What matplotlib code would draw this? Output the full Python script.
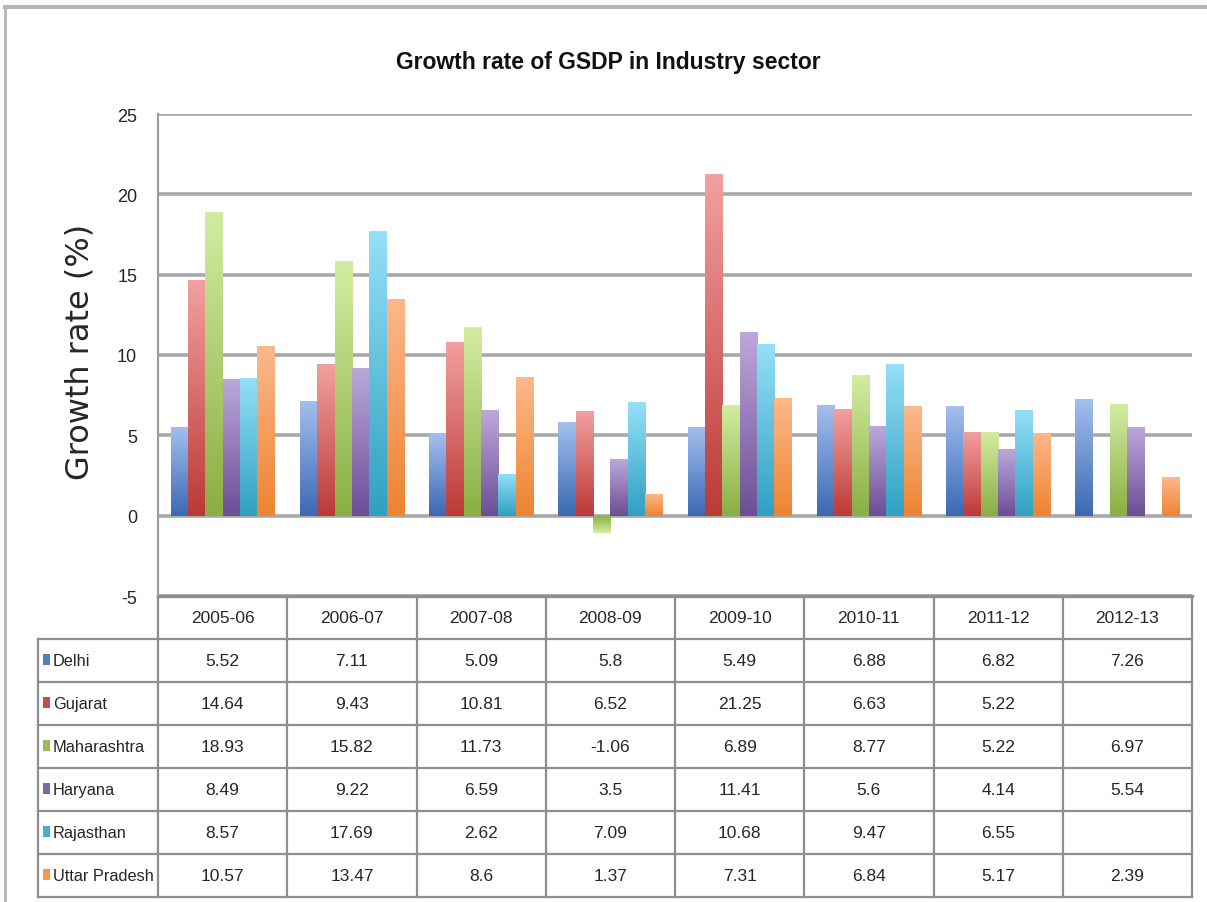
import numpy as np
import matplotlib
matplotlib.use("Agg")
import matplotlib.pyplot as plt
from matplotlib.transforms import blended_transform_factory
from matplotlib.lines import Line2D
from matplotlib.colors import LinearSegmentedColormap

plt.rcParams["axes.unicode_minus"] = False

years = ["2005-06", "2006-07", "2007-08", "2008-09", "2009-10", "2010-11", "2011-12", "2012-13"]
states = ["Delhi", "Gujarat", "Maharashtra", "Haryana", "Rajasthan", "Uttar Pradesh"]
delhi = [5.52, 7.11, 5.09, 5.8, 5.49, 6.88, 6.82, 7.26]
gujarat = [14.64, 9.43, 10.81, 6.52, 21.25, 6.63, 5.22, np.nan]
maharashtra = [18.93, 15.82, 11.73, -1.06, 6.89, 8.77, 5.22, 6.97]
haryana = [8.49, 9.22, 6.59, 3.5, 11.41, 5.6, 4.14, 5.54]
rajasthan = [8.57, 17.69, 2.62, 7.09, 10.68, 9.47, 6.55, np.nan]
uttar_pradesh = [10.57, 13.47, 8.6, 1.37, 7.31, 6.84, 5.17, 2.39]
series = [delhi, gujarat, maharashtra, haryana, rajasthan, uttar_pradesh]

base_colors = ["#4F81BD", "#C0504D", "#9BBB59", "#8064A2", "#4BACC6", "#F79646"]
top_colors = ["#A3BFEE", "#F2A0A0", "#D2EDA2", "#BDA8DA", "#95E0F8", "#FBB98C"]
bot_colors = ["#3A69B3", "#BC3936", "#8AAE42", "#6C4D96", "#2FA0C0", "#EE8330"]

W, H = 1207, 903
fig = plt.figure(figsize=(W / 100, H / 100), dpi=100)
fig.patch.set_facecolor("white")

def fy(px):
    return 1 - px / H

tfam = ["Liberation Sans", "DejaVu Sans"]
tcol = "#262626"

ax_left, ax_right = 158 / W, 1192 / W
ax_bot, ax_top = fy(597), fy(115)
ax = fig.add_axes([ax_left, ax_bot, ax_right - ax_left, ax_top - ax_bot])
ax.set_xlim(-0.5, len(years) - 0.5)
ax.set_ylim(-5, 25)
ax.set_yticks(np.arange(-5, 26, 5))
ax.set_xticks([])
for s in ["top", "right", "bottom"]:
    ax.spines[s].set_visible(False)
ax.spines["left"].set_color("#9A9A9A")
ax.spines["left"].set_linewidth(1.5)
ax.tick_params(axis="y", length=0, pad=15, labelsize=13)
for lab in ax.get_yticklabels():
    lab.set_fontfamily(tfam)
    lab.set_color(tcol)
ax.grid(axis="y", color="#A8A8A8", linewidth=2.6, zorder=0)
ax.set_axisbelow(True)

x = np.arange(len(years))
bw = 0.134
grad = np.linspace(0, 1, 256).reshape(-1, 1)
for k, (vals, tc, bc) in enumerate(zip(series, top_colors, bot_colors)):
    xs = x + (k - 2.5) * bw
    bars = ax.bar(xs, vals, width=bw, color=base_colors[k], zorder=2, linewidth=0)
    cmap = LinearSegmentedColormap.from_list(f"g{k}", [bc, tc])
    for b, v in zip(bars, vals):
        if np.isnan(v):
            continue
        x0 = b.get_x()
        x1 = x0 + b.get_width()
        y0, y1 = min(0, v), max(0, v)
        im = ax.imshow(grad if v >= 0 else grad[::-1], extent=[x0, x1, y0, y1],
                       origin="lower", aspect="auto", cmap=cmap, zorder=3)
        im.set_clip_path(b)
ax.set_xlim(-0.5, len(years) - 0.5)
ax.set_ylim(-5, 25)

# Data table below the chart
tr = blended_transform_factory(ax.transData, fig.transFigure)
col_w_px = (1192 - 158) / len(years)
x_left = -0.5 - (158 - 38) / col_w_px
row_h = 43.0
header_top = 597
lc = "#8E8E8E"
lw = 1.6

ax.add_line(Line2D([-0.5, len(years) - 0.5], [fy(header_top)] * 2, transform=tr, color=lc, lw=2.4, clip_on=False))
for r in range(1, len(states) + 2):
    yy = fy(header_top + r * row_h)
    ax.add_line(Line2D([x_left, len(years) - 0.5], [yy, yy], transform=tr, color=lc, lw=lw, clip_on=False))
ytab_bot = fy(header_top + (len(states) + 1) * row_h)
ax.add_line(Line2D([x_left, x_left], [fy(header_top + row_h), ytab_bot], transform=tr, color=lc, lw=lw, clip_on=False))
for i in range(len(years) + 1):
    xb = i - 0.5
    ax.add_line(Line2D([xb, xb], [fy(header_top), ytab_bot], transform=tr, color=lc, lw=lw, clip_on=False))

fs = 12.5
for i, yr in enumerate(years):
    ax.text(i, fy(header_top + row_h / 2), yr, transform=tr, ha="center", va="center",
            fontsize=fs, family=tfam, color=tcol, clip_on=False)
for r, (name, vals) in enumerate(zip(states, series)):
    yc = fy(header_top + (r + 1.5) * row_h)
    sq_x = x_left + 5 / col_w_px
    ax.add_patch(plt.Rectangle((sq_x, yc - 4 / H), 7 / col_w_px, 11 / H, transform=tr,
                               color=base_colors[r], clip_on=False, linewidth=0))
    ax.text(x_left + 15 / col_w_px, yc, name, transform=tr, ha="left", va="center",
            fontsize=11.8, family=tfam, color=tcol, clip_on=False)
    for i, v in enumerate(vals):
        if np.isnan(v):
            continue
        ax.text(i, yc, f"{v:g}", transform=tr, ha="center", va="center",
                fontsize=fs, family=tfam, color=tcol, clip_on=False)

fig.text(608 / W, fy(62), "Growth rate of GSDP in Industry sector", ha="center", va="center",
         fontsize=16.5, fontweight="bold", family=tfam, color="#111111")
fig.text(80 / W, fy(352), "Growth rate (%)", rotation=90, ha="center", va="center",
         fontsize=23, family=["DejaVu Sans"], color=tcol)

fig.add_artist(Line2D([5 / W, 1], [fy(8), fy(8)], transform=fig.transFigure, color="#B5B5B5", lw=3))
fig.add_artist(Line2D([5 / W, 5 / W], [fy(8), 0], transform=fig.transFigure, color="#B5B5B5", lw=2))

fig.savefig("out.png", dpi=100)
